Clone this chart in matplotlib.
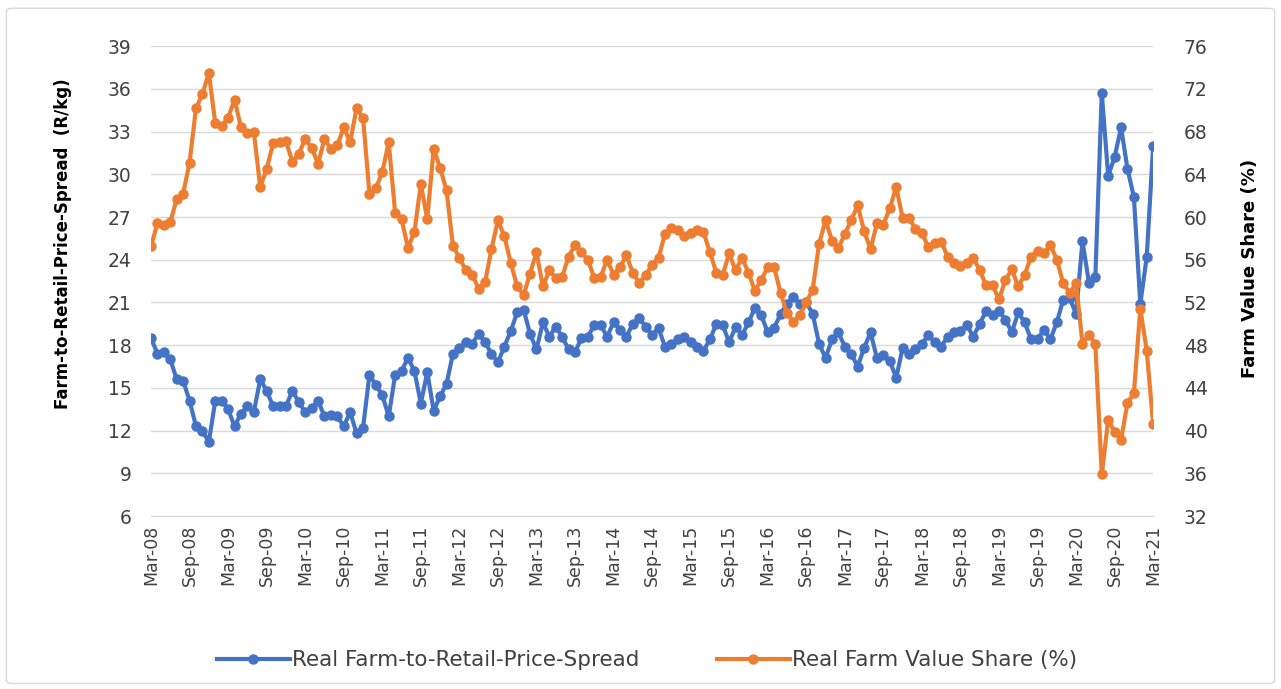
import matplotlib.pyplot as plt
import matplotlib.patches as mpatches
import numpy as np

# Monthly series, Mar-08 .. Mar-21 (157 months)
spread = [18.5, 17.4, 17.5, 17.0, 15.6, 15.5, 14.1, 12.3, 12.0, 11.2,
          14.1, 14.1, 13.5, 12.3, 13.2, 13.7, 13.3, 15.6, 14.8, 13.7,
          13.7, 13.7, 14.8, 14.0, 13.3, 13.6, 14.1, 13.0, 13.1, 13.0,
          12.3, 13.3, 11.8, 12.2, 15.9, 15.2, 14.5, 13.0, 15.9, 16.2,
          17.1, 16.2, 13.9, 16.1, 13.4, 14.4, 15.3, 17.4, 17.8, 18.2,
          18.1, 18.8, 18.2, 17.4, 16.8, 17.9, 19.0, 20.3, 20.5, 18.8,
          17.7, 19.6, 18.6, 19.3, 18.6, 17.7, 17.5, 18.5, 18.6, 19.4,
          19.4, 18.6, 19.6, 19.1, 18.6, 19.5, 19.9, 19.3, 18.7, 19.2,
          17.9, 18.1, 18.4, 18.6, 18.2, 17.9, 17.6, 18.4, 19.5, 19.4,
          18.2, 19.3, 18.7, 19.6, 20.6, 20.1, 18.9, 19.2, 20.2, 20.9,
          21.4, 20.9, 21.0, 20.2, 18.1, 17.1, 18.4, 18.9, 17.9, 17.4,
          16.5, 17.8, 18.9, 17.1, 17.3, 16.9, 15.7, 17.8, 17.4, 17.7,
          18.1, 18.7, 18.2, 17.9, 18.6, 18.9, 19.0, 19.4, 18.6, 19.5,
          20.4, 20.1, 20.4, 19.8, 18.9, 20.3, 19.6, 18.4, 18.4, 19.1,
          18.4, 19.6, 21.2, 21.3, 20.2, 25.3, 22.4, 22.8, 35.7, 29.9,
          31.2, 33.3, 30.4, 28.4, 20.9, 24.2, 32.0]

share = [57.3, 59.4, 59.3, 59.5, 61.7, 62.2, 65.1, 70.2, 71.5, 73.5,
         68.8, 68.5, 69.3, 71.0, 68.4, 67.9, 68.0, 62.8, 64.5, 66.9,
         67.0, 67.1, 65.2, 65.9, 67.3, 66.5, 65.0, 67.3, 66.4, 66.7,
         68.4, 67.0, 70.2, 69.3, 62.2, 62.7, 64.2, 67.0, 60.4, 59.8,
         57.1, 58.6, 63.1, 59.8, 66.4, 64.6, 62.5, 57.3, 56.2, 55.0,
         54.6, 53.3, 53.9, 57.0, 59.7, 58.2, 55.7, 53.5, 52.7, 54.7,
         56.7, 53.5, 55.0, 54.3, 54.4, 56.3, 57.4, 56.7, 56.0, 54.3,
         54.4, 56.0, 54.6, 55.3, 56.4, 54.8, 53.8, 54.6, 55.5, 56.2,
         58.4, 59.0, 58.8, 58.2, 58.5, 58.8, 58.6, 56.7, 54.8, 54.6,
         56.6, 55.0, 56.2, 54.8, 53.1, 54.1, 55.3, 55.3, 52.9, 51.0,
         50.2, 50.8, 52.0, 53.2, 57.5, 59.7, 57.8, 57.1, 58.4, 59.7,
         61.1, 58.7, 57.0, 59.4, 59.3, 60.8, 62.8, 59.9, 59.9, 58.9,
         58.5, 57.2, 57.6, 57.7, 56.3, 55.7, 55.4, 55.7, 56.2, 55.0,
         53.6, 53.6, 52.3, 54.1, 55.1, 53.5, 54.6, 56.3, 56.8, 56.6,
         57.4, 56.0, 53.8, 52.9, 53.8, 48.1, 49.0, 48.1, 35.9, 41.0,
         39.9, 39.1, 42.6, 43.5, 51.4, 47.5, 40.6]

months = ['Mar', 'Sep']
years = [f'{y:02d}' for y in range(8, 22)]
tick_labels = [f'{m}-{y}' for y in years for m in months][:-1]

blue = '#4472C4'
orange = '#ED7D31'
x = np.arange(len(spread))

fig = plt.figure(figsize=(12.81, 6.89), dpi=100)
ax = fig.add_axes([0.1179, 0.251, 0.7823, 0.682])
ax2 = ax.twinx()

l1, = ax.plot(x, spread, color=blue, lw=3, marker='o', ms=6.5,
              mec=blue, label='Real Farm-to-Retail-Price-Spread', zorder=3)
l2, = ax2.plot(x, share, color=orange, lw=3, marker='o', ms=6.5,
               mec=orange, label='Real Farm Value Share (%)', zorder=3)

ax.set_xlim(0, len(spread) - 1)
ax.set_ylim(6, 39)
ax2.set_ylim(32, 76)
ax.set_yticks(range(6, 40, 3))
ax2.set_yticks(range(32, 77, 4))
ax.set_xticks(range(0, len(spread), 6))
ax.set_xticklabels(tick_labels, rotation=90)

ax.grid(axis='y', color='#D9D9D9', lw=1)
ax.set_axisbelow(True)
for a in (ax, ax2):
    for s in a.spines.values():
        s.set_visible(False)
    a.tick_params(length=0, labelsize=13.5, colors='#404040')
ax.tick_params(axis='y', pad=14)
ax2.tick_params(axis='y', pad=22)
ax.spines['bottom'].set_visible(True)
ax.spines['bottom'].set_color('#D9D9D9')
ax.tick_params(axis='x', pad=6, labelsize=12.5)

ax.set_ylabel('Farm-to-Retail-Price-Spread  (R/kg)', fontsize=12,
              fontweight='bold')
ax.yaxis.set_label_coords(-0.079, 0.58)
ax2.set_ylabel('Farm Value Share (%)', fontsize=13, fontweight='bold')
ax2.yaxis.set_label_coords(1.088, 0.528)

fig.legend(handles=[l1, l2], loc='center', bbox_to_anchor=(0.505, 0.042),
           ncol=2, frameon=False, fontsize=15.5, handlelength=3.4,
           handletextpad=0.1, columnspacing=3.6, labelcolor='#404040')

border = mpatches.FancyBboxPatch((0.005, 0.008), 0.99, 0.98,
                                 boxstyle='round,pad=0,rounding_size=0.005',
                                 transform=fig.transFigure, fill=False,
                                 edgecolor='#D9D9D9', lw=1)
fig.patches.append(border)

fig.savefig('out.png', dpi=100)
